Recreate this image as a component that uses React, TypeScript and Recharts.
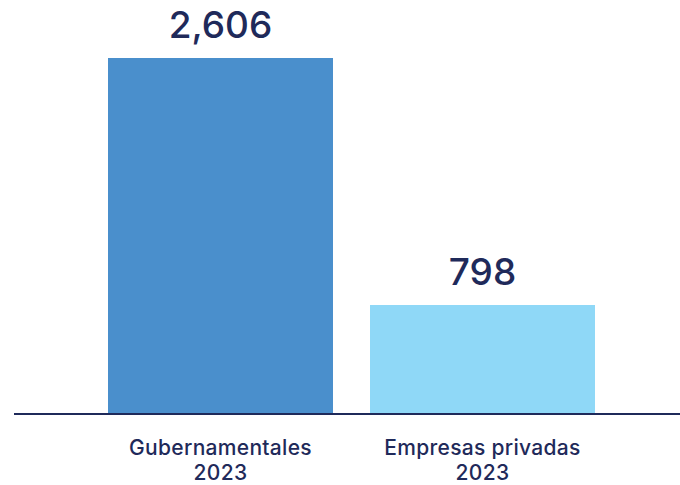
import { BarChart, Bar, XAxis, YAxis, Cell, LabelList } from 'recharts';

const categories = ['Gubernamentales', 'Empresas privadas'];
const years = ['2023', '2023'];
const values = [2606, 798];
const colors = ['#4a8fcc', '#8fd8f7'];

const NAVY = '#1f2a5a';
const FONT = 'Inter, "Noto Sans", sans-serif';

const data = categories.map((name, i) => ({ name, year: years[i], value: values[i] }));

const CategoryTick = ({ x, y, payload, index }: any) => (
  <g transform={`translate(${x},${y})`}>
    <text
      textAnchor="middle"
      fill={NAVY}
      fontFamily={FONT}
      fontSize={21}
      fontWeight={500}
      letterSpacing={0.3}
    >
      <tspan x={0} y={33}>{payload.value}</tspan>
      <tspan x={0} y={58}>{years[index]}</tspan>
    </text>
  </g>
);

const ValueLabel = ({ x, y, width, value }: any) => (
  <text
    x={x + width / 2}
    y={y - 20}
    textAnchor="middle"
    fill={NAVY}
    fontFamily={FONT}
    fontSize={37}
    fontWeight={500}
  >
    {Number(value).toLocaleString('en-US')}
  </text>
);

export default function App() {
  return (
    <div style={{ position: 'absolute', left: 0, top: 0, background: '#fff' }}>
      <BarChart
        width={680}
        height={485}
        data={data}
        margin={{ top: 58, right: 0, bottom: 0, left: 14 }}
        barCategoryGap={18.5}
      >
        <XAxis
          dataKey="name"
          height={71}
          tickLine={false}
          axisLine={{ stroke: NAVY, strokeWidth: 2 }}
          padding={{ left: 75.5, right: 66.5 }}
          interval={0}
          tick={<CategoryTick />}
        />
        <YAxis hide domain={[0, 2606]} />
        <Bar dataKey="value" isAnimationActive={false}>
          {data.map((_, i) => (
            <Cell key={`cell-${i}`} fill={colors[i]} />
          ))}
          <LabelList dataKey="value" content={<ValueLabel />} />
        </Bar>
      </BarChart>
    </div>
  );
}
